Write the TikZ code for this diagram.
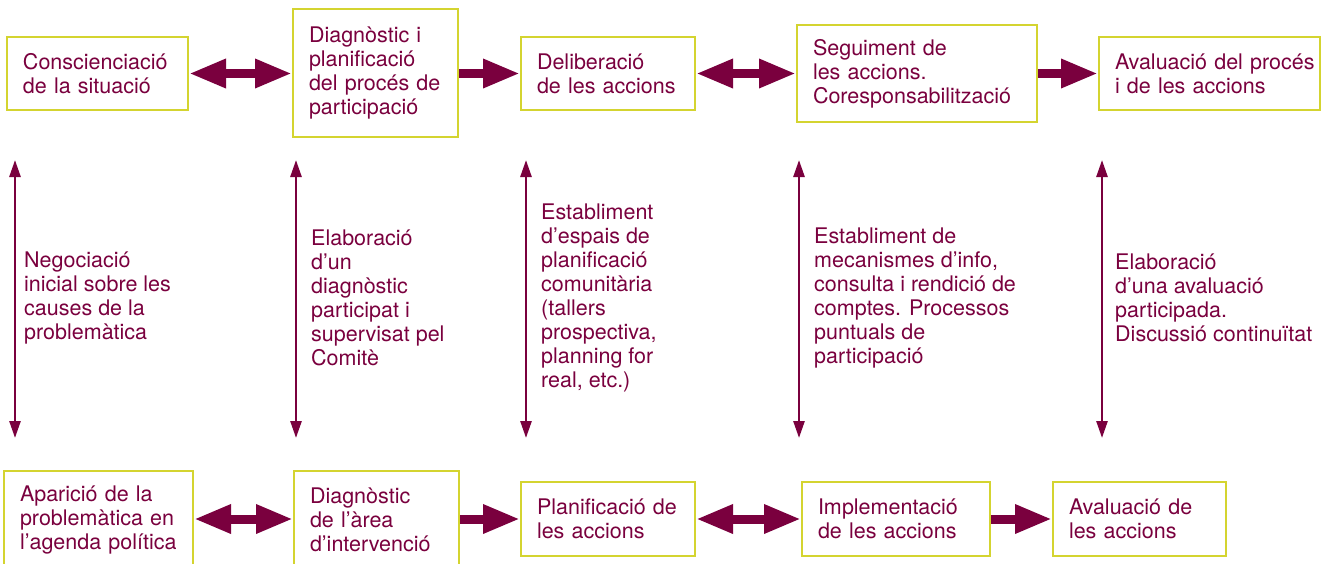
\documentclass[tikz,border=0pt]{standalone}
\usepackage{fontspec}
\setmainfont{TeX Gyre Heros}
\usepackage{xcolor}
\usepackage{tikz}
\usetikzlibrary{arrows.meta, positioning}

\definecolor{wine}{RGB}{122,0,62}
\definecolor{lime}{RGB}{212,212,48}

\begin{document}
\begin{tikzpicture}[x=1pt, y=-1pt,
    box/.style={rectangle, draw=lime, line width=2pt, fill=white, align=left, text=wine, inner xsep=16pt, inner ysep=0pt, font=\fontsize{21.5}{24}\selectfont},
    note/.style={anchor=west, align=left, text=wine, inner sep=0pt, font=\fontsize{21.5}{24}\selectfont},
    onearrow/.style={draw=wine, line width=9pt, -{Triangle[width=27pt, length=37pt]}},
    botharrow/.style={draw=wine, line width=9pt, {Triangle[width=27pt, length=37pt]}-{Triangle[width=27pt, length=37pt]}},
    thinarrow/.style={draw=wine, line width=2.6pt, {Triangle[width=11pt, length=17pt]}-{Triangle[width=11pt, length=17pt]}}
]
\useasboundingbox (0,0) rectangle (1323,563);

% Top row
\node[box, text width=149pt, minimum height=73pt] (consc) at (97.5,73.5) {Conscienciació\\de la situació};
\node[box, text width=133pt, minimum height=128pt] (diagp) at (375.5,73) {Diagnòstic i\\planificació\\del procés de\\participació};
\node[box, text width=142pt, minimum height=73pt] (delib) at (608,73.5) {Deliberació\\de les accions};
\node[box, text width=208pt, minimum height=97pt] (segui) at (917,73.5) {Seguiment de\\les accions.\\Coresponsabilització};
\node[box, text width=189pt, inner xsep=16pt, minimum height=73pt] (avalp) at (1209.5,73.5) {\mbox{Avaluació del procés}\\i de les accions};

% Bottom row
\node[box, text width=157pt, minimum height=98pt] (apari) at (98.5,520) {Aparició de la\\problemàtica en\\l’agenda política};
\node[box, text width=133pt, minimum height=98pt] (diaga) at (376.5,520) {Diagnòstic\\de l’àrea\\d’intervenció};
\node[box, text width=142pt, minimum height=74pt] (plani) at (608,519) {Planificació de\\les accions};
\node[box, text width=156pt, minimum height=74pt] (imple) at (896,519) {Implementació\\de les accions};
\node[box, text width=141pt, minimum height=74pt] (avala) at (1139.5,519) {Avaluació de\\les accions};

% Block arrows
\draw[botharrow] (consc.east) -- (consc.east -| diagp.west);
\draw[onearrow] (consc.east -| diagp.east) -- (consc.east -| delib.west);
\draw[botharrow] (delib.east) -- (delib.east -| segui.west);
\draw[onearrow] (delib.east -| segui.east) -- (avalp.west);
\draw[botharrow] (plani.west -| apari.east) -- (plani.west -| diaga.west);
\draw[onearrow] (plani.west -| diaga.east) -- (plani.west);
\draw[botharrow] (plani.east) -- (imple.west);
\draw[onearrow] (imple.east) -- (avala.west);

% Vertical links
\coordinate (v1t) at (15,160);   \coordinate (v1b) at (15,438);
\coordinate (v2t) at (296,160);  \coordinate (v2b) at (296,438);
\coordinate (v3t) at (526,160);  \coordinate (v3b) at (526,438);
\coordinate (v4t) at (799,160);  \coordinate (v4b) at (799,438);
\coordinate (v5t) at (1102,160); \coordinate (v5b) at (1102,438);
\foreach \i in {1,...,5}
    \draw[thinarrow] (v\i t) -- (v\i b);

% Labels
\node[note] (neg) at (24,298) {Negociació\\inicial sobre les\\causes de la\\problemàtica};
\node[note] (elab) at (311,298) {Elaboració\\d’un\\diagnòstic\\participat i\\supervisat pel\\Comitè};
\node[note] (espais) at (541,298) {Establiment\\d’espais de\\planificació\\comunitària\\(tallers\\prospectiva,\\planning for\\real, etc.)};
\node[note] (mecan) at (814,298) {Establiment de\\mecanismes d’info,\\consulta i rendició de\\comptes. Processos\\puntuals de\\participació};
\node[note] (avpart) at (1115,298) {Elaboració\\d’una avaluació\\participada.\\Discussió continuïtat};

\end{tikzpicture}
\end{document}
